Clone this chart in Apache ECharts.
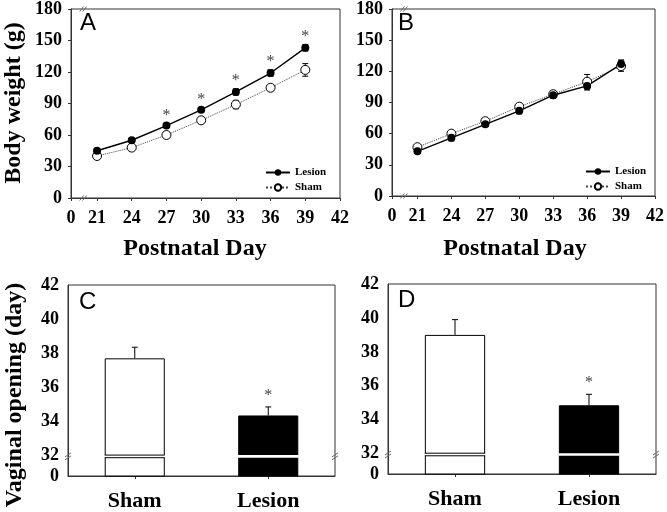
<!DOCTYPE html>
<html>
<head>
<meta charset="utf-8">
<script src="https://cdn.jsdelivr.net/npm/echarts@6/dist/echarts.min.js"></script>
<style>html,body{margin:0;padding:0;background:#fff;}#chart{width:667px;height:512px;}</style>
</head>
<body>
<div id="chart"></div>
<script>
// ---- data ----
const days = [21, 24, 27, 30, 33, 36, 39];
const dayTicks = [18.75, 21, 24, 27, 30, 33, 36, 39, 42];
const aLesion = [45, 55, 69, 84, 101, 119, 143];
const aLesionErr = [2, 2, 2, 2, 3, 3, 3];
const aSham = [40, 48, 60, 74, 89, 105, 122];
const aShamErr = [2, 2, 3, 3, 4, 3, 6];
const aSig = [0, 0, 1, 1, 1, 1, 1];
const bLesion = [43, 56, 69, 82, 97, 106, 127];
const bLesionErr = [2, 3, 2, 3, 3, 4, 4];
const bSham = [47, 60, 72, 86, 98, 110, 125];
const bShamErr = [2, 2, 2, 3, 2, 7, 5];
const groups = ['Sham', 'Lesion'];
const cMean = [37.7, 34.35];
const cErr = [0.65, 0.5];
const cSig = [0, 1];
const dMean = [39.0, 34.85];
const dErr = [0.9, 0.65];
const dSig = [0, 1];
const vaTicks = [30.8, 32, 34, 36, 38, 40, 42];

const SERIF = '"Liberation Serif","Times New Roman",serif';
const SANS = '"Liberation Sans",Arial,sans-serif';
const AX = '#333';

const grids = [
  {left: 71, top: 5, width: 269, height: 193},
  {left: 392, top: 5, width: 266, height: 191},
  {left: 68, top: 285, width: 267, height: 191},
  {left: 388, top: 284, width: 268, height: 190}
].map(g => Object.assign({show: true, borderColor: AX, borderWidth: 1, backgroundColor: 'transparent'}, g));

const labelStyle = {color: '#000', fontFamily: SERIF, fontWeight: 'bold', fontSize: 18};

function dayAxis(gi) {
  return {
    type: 'value', gridIndex: gi, min: 18.75, max: 42,
    axisLine: {show: true, lineStyle: {color: AX}},
    axisTick: {show: true, inside: false, length: 3, customValues: dayTicks, lineStyle: {color: AX}},
    axisLabel: Object.assign({margin: 11, customValues: dayTicks, showMinLabel: true, showMaxLabel: true,
      formatter: v => (v < 20 ? '0' : String(v))}, labelStyle),
    splitLine: {show: false}
  };
}
function wAxis(gi) {
  return {
    type: 'value', gridIndex: gi, min: 0, max: 180, interval: 30,
    axisLine: {show: true, lineStyle: {color: AX}},
    axisTick: {show: true, inside: false, length: 3, lineStyle: {color: AX}},
    axisLabel: Object.assign({margin: 9}, labelStyle),
    splitLine: {show: false}
  };
}
function catAxis(gi) {
  return {
    type: 'category', gridIndex: gi, data: groups,
    axisLine: {show: true, lineStyle: {color: AX}},
    axisTick: {show: true, alignWithLabel: true, length: 3, lineStyle: {color: AX}},
    axisLabel: {color: '#000', fontFamily: SERIF, fontWeight: 'bold', fontSize: 22, margin: 14},
    splitLine: {show: false}
  };
}
function vAxis(gi) {
  return {
    type: 'value', gridIndex: gi, min: 30.8, max: 42,
    axisLine: {show: true, lineStyle: {color: AX}},
    axisTick: {show: false},
    axisLabel: Object.assign({margin: 9, customValues: vaTicks, showMinLabel: true, showMaxLabel: true,
      formatter: v => (v < 31 ? '0' : String(Math.round(v)))}, labelStyle),
    splitLine: {show: false}
  };
}

function lineSeries(name, gi, vals, filled) {
  return {
    type: 'line', name: name, xAxisIndex: gi, yAxisIndex: gi, z: 3,
    data: days.map((d, i) => [d, vals[i]]),
    symbol: 'circle', symbolSize: filled ? 8 : 9,
    itemStyle: filled ? {color: '#000'} : {color: '#fff', borderColor: '#000', borderWidth: 1},
    lineStyle: filled ? {color: '#000', width: 1.4, type: 'solid'} : {color: '#444', width: 1, type: 'dotted'},
    emphasis: {disabled: true}, animation: false
  };
}

function errSeries(gi, xs, vals, errs, upOnly, z) {
  return {
    type: 'custom', xAxisIndex: gi, yAxisIndex: gi, z: z || 2, silent: true, animation: false,
    data: xs.map((x, i) => [x, vals[i], errs[i]]),
    renderItem: function (params, api) {
      const x = api.value(0), y = api.value(1), e = api.value(2);
      const top = api.coord([x, y + e]);
      const bot = api.coord([x, upOnly ? y : y - e]);
      const hw = 3;
      const st = {stroke: '#000', lineWidth: 1};
      const ch = [
        {type: 'line', shape: {x1: top[0], y1: top[1], x2: bot[0], y2: bot[1]}, style: st},
        {type: 'line', shape: {x1: top[0] - hw, y1: top[1], x2: top[0] + hw, y2: top[1]}, style: st}
      ];
      if (!upOnly) ch.push({type: 'line', shape: {x1: bot[0] - hw, y1: bot[1], x2: bot[0] + hw, y2: bot[1]}, style: st});
      return {type: 'group', children: ch};
    }
  };
}

function starSeries(gi, xs, vals, errs, sig, off) {
  const data = [];
  xs.forEach((x, i) => { if (sig[i]) data.push([x, vals[i] + errs[i]]); });
  return {
    type: 'custom', xAxisIndex: gi, yAxisIndex: gi, z: 4, silent: true, animation: false,
    data: data,
    renderItem: function (params, api) {
      const p = api.coord([api.value(0), api.value(1)]);
      return {type: 'text', x: p[0], y: p[1] - off,
        style: {text: '*', fill: '#444', font: '16px ' + SERIF, align: 'center', verticalAlign: 'middle'}};
    }
  };
}

function slashes(cx, cy, vertical) {
  const st = {stroke: '#666', lineWidth: 1};
  const out = [];
  for (const d of [-1.5, 1.5]) {
    if (vertical) {
      out.push({type: 'line', shape: {x1: cx - 3, y1: cy + d + 2, x2: cx + 3, y2: cy + d - 2}, style: st});
    } else {
      out.push({type: 'line', shape: {x1: cx + d - 2, y1: cy + 2.5, x2: cx + d + 2, y2: cy - 2.5}, style: st});
    }
  }
  return out;
}
function xBreakSeries(gi) {
  return {
    type: 'custom', xAxisIndex: gi, yAxisIndex: gi, z: 5, silent: true, animation: false, clip: false,
    data: [[19.8, 0]],
    renderItem: function (params, api) {
      const b = api.coord([api.value(0), 0]);
      const t = api.coord([api.value(0), 180]);
      return {type: 'group', children: slashes(b[0], b[1], false).concat(slashes(t[0], t[1], false))};
    }
  };
}
function yBreakSeries(gi) {
  return {
    type: 'custom', xAxisIndex: gi, yAxisIndex: gi, z: 5, silent: true, animation: false, clip: false,
    data: [[0, 31.95]],
    renderItem: function (params, api) {
      const cs = params.coordSys;
      const p = api.coord([0, api.value(1)]);
      return {type: 'group', children: slashes(cs.x, p[1], true).concat(slashes(cs.x + cs.width, p[1], true))};
    }
  };
}
function barSeries(gi, vals) {
  return {
    type: 'bar', xAxisIndex: gi, yAxisIndex: gi, barWidth: '45%', z: 2, animation: false,
    data: vals.map((v, i) => ({value: v, itemStyle: i === 0 ? {color: '#fff', borderColor: '#000', borderWidth: 1} : {color: '#000', borderColor: '#000', borderWidth: 1}})),
    emphasis: {disabled: true}
  };
}
function barGapSeries(gi, vals) {
  return {
    type: 'custom', xAxisIndex: gi, yAxisIndex: gi, z: 3, silent: true, animation: false,
    data: vals.map((v, i) => [i, 31.95]),
    renderItem: function (params, api) {
      const i = api.value(0);
      const c = api.coord([i, api.value(1)]);
      const w = api.size([1, 0])[0] * 0.45;
      const x0 = c[0] - w / 2, x1 = c[0] + w / 2;
      const ch = [{type: 'rect', shape: {x: x0 - 0.5, y: c[1] - 1.3, width: w + 1, height: 2.6}, style: {fill: '#fff'}}];
      if (i === 0) {
        ch.push({type: 'line', shape: {x1: x0, y1: c[1] - 1.3, x2: x1, y2: c[1] - 1.3}, style: {stroke: '#000', lineWidth: 1}});
        ch.push({type: 'line', shape: {x1: x0, y1: c[1] + 1.3, x2: x1, y2: c[1] + 1.3}, style: {stroke: '#000', lineWidth: 1}});
      }
      return {type: 'group', children: ch};
    }
  };
}

const catIdx = groups.map((g, i) => i);

const option = {
  animation: false,
  backgroundColor: '#fff',
  grid: grids,
  xAxis: [dayAxis(0), dayAxis(1), catAxis(2), catAxis(3)],
  yAxis: [wAxis(0), wAxis(1), vAxis(2), vAxis(3)],
  legend: [
    {left: 260, top: 162, orient: 'vertical', itemWidth: 24, itemHeight: 8, itemGap: 4, data: ['Lesion', 'Sham'],
      textStyle: {fontFamily: SERIF, fontWeight: 'bold', fontSize: 11, color: '#000'}, selectedMode: false},
    {left: 580, top: 161, orient: 'vertical', itemWidth: 24, itemHeight: 8, itemGap: 4, data: ['Lesion', 'Sham'],
      textStyle: {fontFamily: SERIF, fontWeight: 'bold', fontSize: 11, color: '#000'}, selectedMode: false}
  ],
  series: [
    errSeries(0, days, aSham, aShamErr, false, 2),
    errSeries(0, days, aLesion, aLesionErr, false, 2),
    lineSeries('Sham', 0, aSham, false),
    lineSeries('Lesion', 0, aLesion, true),
    starSeries(0, days, aLesion, aLesionErr, aSig, 8),
    xBreakSeries(0),
    errSeries(1, days, bSham, bShamErr, false, 2),
    errSeries(1, days, bLesion, bLesionErr, false, 2),
    lineSeries('Sham', 1, bSham, false),
    lineSeries('Lesion', 1, bLesion, true),
    xBreakSeries(1),
    barSeries(2, cMean),
    errSeries(2, catIdx, cMean, cErr, true, 1),
    barGapSeries(2, cMean),
    starSeries(2, catIdx, cMean, cErr, cSig, 11),
    yBreakSeries(2),
    barSeries(3, dMean),
    errSeries(3, catIdx, dMean, dErr, true, 1),
    barGapSeries(3, dMean),
    starSeries(3, catIdx, dMean, dErr, dSig, 11),
    yBreakSeries(3)
  ],
  graphic: [
    {type: 'text', x: 14, y: 103, rotation: Math.PI / 2, style: {text: 'Body weight (g)', font: 'bold 24px ' + SERIF, fill: '#000', align: 'center', verticalAlign: 'middle'}},
    {type: 'text', x: 15, y: 395, rotation: Math.PI / 2, style: {text: 'Vaginal opening (day)', font: 'bold 24px ' + SERIF, fill: '#000', align: 'center', verticalAlign: 'middle'}},
    {type: 'text', x: 195, y: 249, style: {text: 'Postnatal Day', font: 'bold 24px ' + SERIF, fill: '#000', align: 'center', verticalAlign: 'middle'}},
    {type: 'text', x: 515, y: 249, style: {text: 'Postnatal Day', font: 'bold 24px ' + SERIF, fill: '#000', align: 'center', verticalAlign: 'middle'}},
    {type: 'text', x: 80, y: 11, style: {text: 'A', font: '24px ' + SANS, fill: '#000'}},
    {type: 'text', x: 398, y: 11, style: {text: 'B', font: '24px ' + SANS, fill: '#000'}},
    {type: 'text', x: 79, y: 290, style: {text: 'C', font: '24px ' + SANS, fill: '#000'}},
    {type: 'text', x: 398, y: 288, style: {text: 'D', font: '24px ' + SANS, fill: '#000'}}
  ]
};

const chart = echarts.init(document.getElementById('chart'), null, {renderer: 'canvas'});
chart.setOption(option);
</script>
</body>
</html>
